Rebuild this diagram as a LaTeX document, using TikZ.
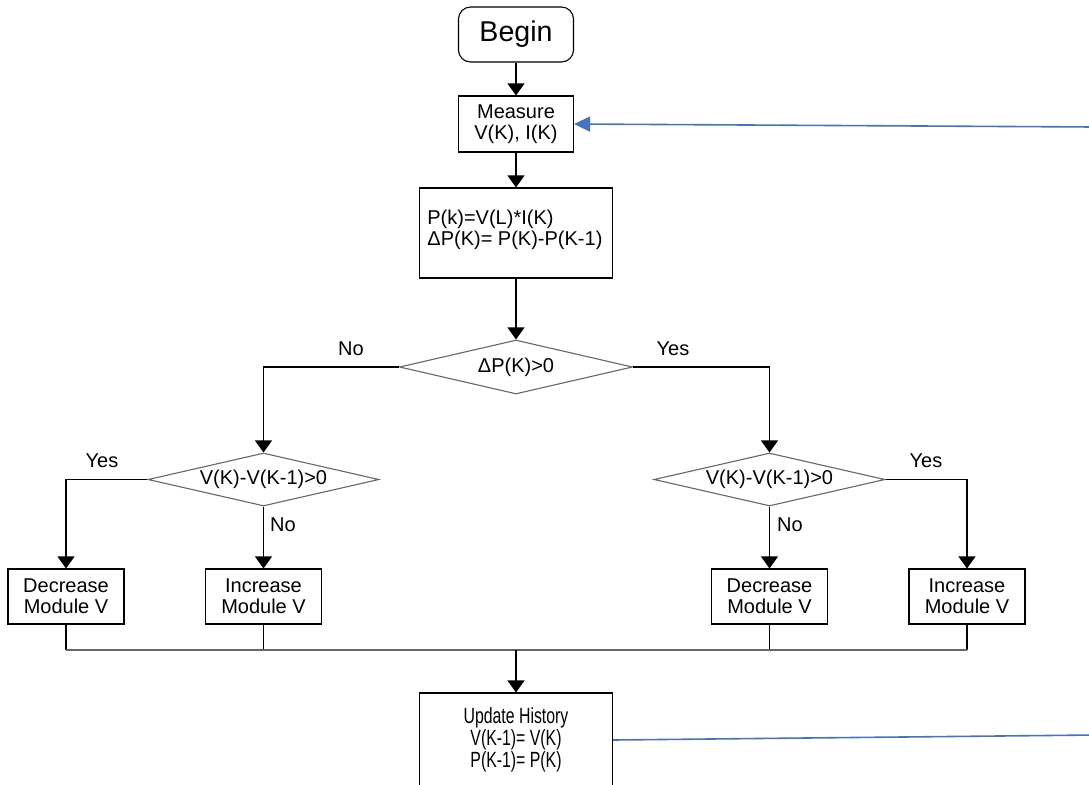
\documentclass[tikz,border=0pt]{standalone}
\usepackage{fontspec}
\setmainfont{Liberation Sans}
\newfontfamily\narrowfont[FakeStretch=0.72]{Liberation Sans}
\usepackage{tikz}
\usetikzlibrary{positioning,arrows.meta,shapes.geometric}
\definecolor{loopblue}{RGB}{68,114,196}

\begin{document}
\begin{tikzpicture}[x=0.5pt,y=-0.5pt,
  font=\fontsize{10}{10.5}\selectfont,
  box/.style={draw, line width=0.55pt, inner sep=0pt, align=center},
  test/.style={draw=black!60, line width=0.55pt, diamond, aspect=4.36, inner sep=0pt,
    minimum width=115.5pt, minimum height=26.5pt},
  flow/.style={line width=0.55pt, -{Triangle[width=8.5pt,length=6pt]}},
  back/.style={loopblue, line width=0.8pt, -{Triangle[width=7.5pt,length=8pt]}},
  tag/.style={inner sep=0pt}]
  \def\mid{516}   % centre column (px)
  \useasboundingbox (0,0) rectangle (1089,784);

  % main column
  \node[box, rounded corners=6pt, minimum width=57.5pt, minimum height=27.5pt,
    font=\fontsize{14.3}{16}\selectfont] (begin) at (\mid,34.5) {Begin};
  \node[box, minimum width=57.5pt, minimum height=28pt] (measure) at (\mid,124)
    {Measure\\V(K), I(K)};
  \node[box, minimum width=96.5pt, minimum height=45pt] (power) at (\mid,233) {};
  \node[anchor=west, align=left, inner sep=0pt] (powertxt) at (427,230)
    {P(k)=V(L)*I(K)\\ΔP(K)= P(K)-P(K-1)};
  \node[test, minimum width=116.5pt, minimum height=27pt] (dp) at (\mid,367) {ΔP(K)>0};

  % second tests
  \node[test] (dvL) at (263.5,479.5) {V(K)-V(K-1)>0};
  \node[test] (dvR) at (769.5,479.5) {V(K)-V(K-1)>0};

  % actions
  \node[box, minimum width=58pt, minimum height=27.5pt] (decL) at (66,596.5) {Decrease\\Module V};
  \node[box, minimum width=58pt, minimum height=27.5pt] (incL) at (263.5,596.5) {Increase\\Module V};
  \node[box, minimum width=58pt, minimum height=27.5pt] (decR) at (769.5,596.5) {Decrease\\Module V};
  \node[box, minimum width=58pt, minimum height=27.5pt] (incR) at (967,596.5) {Increase\\Module V};

  \node[box, minimum width=96.5pt, minimum height=47pt,
    font=\narrowfont\fontsize{11}{11}\selectfont] (update) at (\mid,740)
    {Update History\\V(K-1)= V(K)\\P(K-1)= P(K)};

  % branch labels
  \node[tag] (noA) at (351,349) {No};
  \node[tag] (yesA) at (673,349) {Yes};
  \node[tag] (yesB) at (102,461) {Yes};
  \node[tag] (noB) at (283,525) {No};
  \node[tag] (noC) at (790,525) {No};
  \node[tag] (yesC) at (926,461) {Yes};

  % connectors
  \draw[flow] (begin) -- (measure);
  \draw[flow] (measure) -- (power);
  \draw[flow] (power) -- (dp);
  \draw[flow] (dp.west) -| (dvL.north);
  \draw[flow] (dp.east) -| (dvR.north);
  \draw[flow] (dvL.west) -| (decL.north);
  \draw[flow] (dvL.south) -- (incL.north);
  \draw[flow] (dvR.south) -- (decR.north);
  \draw[flow] (dvR.east) -| (incR.north);

  % merge
  \coordinate (merge) at (\mid,650);
  \foreach \n in {decL,incL,decR,incR}
    \draw[line width=0.55pt] (\n.south) -- (\n.south |- merge);
  \draw[black!60, line width=0.55pt] (decL.south |- merge) -- (incR.south |- merge);
  \draw[flow] (merge) -- (update);

  % feedback (runs off the right edge)
  \coordinate (loopin) at (1095,127);
  \coordinate (loopout) at (1095,735);
  \draw[back] (loopin) -- (measure.east);
  \draw[loopblue, line width=0.8pt] (update.east) -- (loopout);
\end{tikzpicture}
\end{document}
